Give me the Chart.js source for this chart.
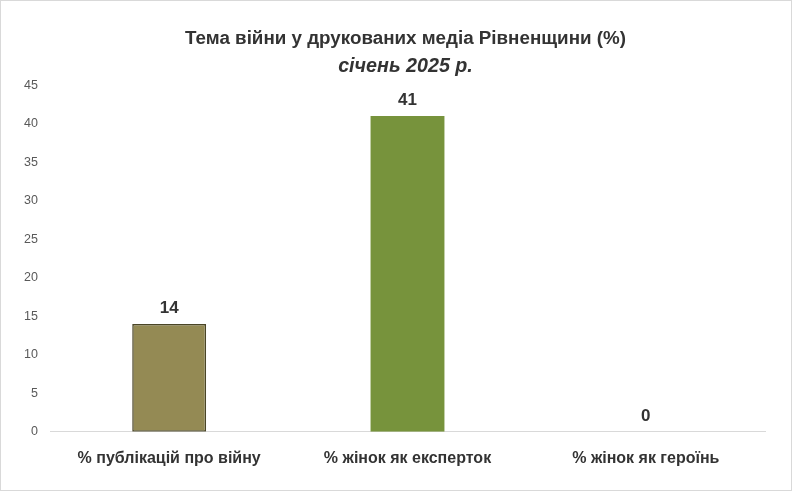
<!DOCTYPE html>
<html>
<head>
<meta charset="utf-8">
<script src="https://cdn.jsdelivr.net/npm/chart.js@4.4.1/dist/chart.umd.min.js"></script>
<style>
  html, body { margin: 0; padding: 0; background: #fff; }
  #wrap { width: 790px; height: 489px; border: 1px solid #d9d9d9; position: relative; }
</style>
</head>
<body>
<div id="wrap"><canvas id="viyna"></canvas></div>
<script>
const categories = ['% публікацій про війну', '% жінок як експерток', '% жінок як героїнь']
const values = [14, 41, 0]
const barColors = ['#948a54', '#77933c', '#4f81bd']
const barBorders = ['#4a4526', '#77933c', '#4f81bd']
const yTicks = [0, 5, 10, 15, 20, 25, 30, 35, 40, 45]

// підписи над стовпцями
const valueLabels = {
    id: 'valueLabels',
    afterDatasetsDraw(chart) {
        const ctx = chart.ctx
        const meta = chart.getDatasetMeta(0)
        ctx.save()
        ctx.font = 'bold 17px "Liberation Sans", Arial, sans-serif'
        ctx.fillStyle = '#333333'
        ctx.textAlign = 'center'
        ctx.textBaseline = 'bottom'
        meta.data.forEach((bar, i) => {
            ctx.fillText(values[i], bar.x, bar.y - 7)
        })
        ctx.restore()
    }
}

const viyna = new Chart(
    document.getElementById('viyna'),
    {
        type: 'bar',
        data: {
            labels: categories,
            datasets: [{
                data: values,
                backgroundColor: barColors,
                borderColor: barBorders,
                borderWidth: [1.5, 0, 0],
                borderSkipped: false,
                barPercentage: 0.31,
                categoryPercentage: 1
            }]
        },
        options: {
            responsive: true,
            maintainAspectRatio: false,
            animation: false,
            layout: { padding: { left: 45, right: 26, top: 0, bottom: 13 } },
            plugins: {
                legend: { display: false },
                tooltip: { enabled: false },
                title: {
                    display: true,
                    text: 'Тема війни у друкованих медіа Рівненщини (%)',
                    color: '#333333',
                    font: { family: '"Liberation Sans", Arial, sans-serif', size: 18.8, weight: 'bold' },
                    padding: { top: 27, bottom: 0 }
                },
                subtitle: {
                    display: true,
                    text: 'січень 2025 р.',
                    color: '#333333',
                    font: { family: '"Liberation Sans", Arial, sans-serif', size: 19.7, weight: 'bold', style: 'italic' },
                    padding: { top: 4, bottom: 7 }
                }
            },
            scales: {
                x: {
                    grid: { display: false },
                    border: { display: true, color: '#d9d9d9', width: 1 },
                    ticks: {
                        color: '#333333',
                        padding: 9,
                        font: { family: '"Liberation Sans", Arial, sans-serif', size: 16, weight: 'bold' }
                    }
                },
                y: {
                    min: 0,
                    max: 45,
                    grid: { display: false },
                    border: { display: false },
                    afterBuildTicks(axis) {
                        axis.ticks = yTicks.map(v => ({ value: v }))
                    },
                    afterFit(axis) {
                        axis.width = 4
                    },
                    ticks: {
                        color: '#595959',
                        mirror: true,
                        crossAlign: 'far',
                        padding: -26,
                        font: { family: '"Liberation Sans", Arial, sans-serif', size: 12.5 }
                    }
                }
            }
        },
        plugins: [valueLabels]
    }
)
</script>
</body>
</html>
